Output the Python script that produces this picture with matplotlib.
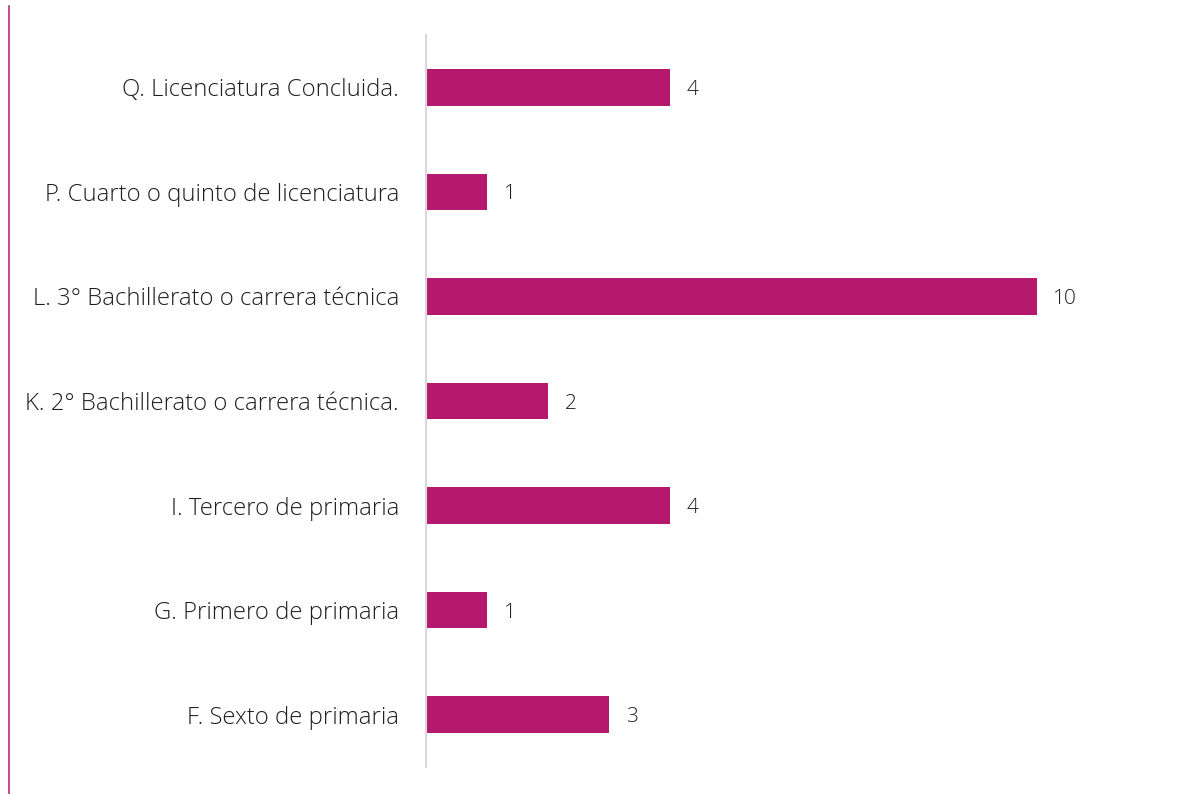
import matplotlib
matplotlib.use("Agg")
import matplotlib.pyplot as plt
from matplotlib.lines import Line2D

categories = [
    "Q. Licenciatura Concluida.",
    "P. Cuarto o quinto de licenciatura",
    "L. 3° Bachillerato o carrera técnica",
    "K. 2° Bachillerato o carrera técnica.",
    "I. Tercero de primaria",
    "G. Primero de primaria",
    "F. Sexto de primaria",
]
values = [4, 1, 10, 2, 4, 1, 3]

bar_color = "#B5196E"
text_color = "#1F1F1F"
font = "Open Sans"

W, H = 1182, 794
fig = plt.figure(figsize=(W / 100, H / 100), dpi=100)
ax = fig.add_axes([426 / W, 1 - 767 / H, (1159 - 426) / W, (767 - 35) / H])

y = list(range(len(categories)))
ax.barh(y, values, height=0.35, color=bar_color)
ax.set_ylim(len(categories) - 0.5, -0.5)
ax.set_xlim(0, 12)

for yi, v in zip(y, values):
    ax.text(v + 0.27, yi, str(v), va="center_baseline", ha="left",
            fontsize=15, color=text_color, family=font, fontweight="light")

ax.set_yticks(y)
ax.set_yticklabels(categories, fontsize=17.2, color=text_color, family=font,
                   fontweight="light")
for lbl in ax.get_yticklabels():
    lbl.set_verticalalignment("center_baseline")
ax.tick_params(axis="y", length=0, pad=19.5)
ax.set_xticks([])
for s in ["top", "right", "bottom"]:
    ax.spines[s].set_visible(False)
ax.spines["left"].set_color("#D9D9D9")
ax.spines["left"].set_linewidth(1.5)

# thin accent rule on the left edge of the figure
fig.add_artist(Line2D([8.5 / W, 8.5 / W], [0, 1 - 6 / H], transform=fig.transFigure,
                      color=bar_color, linewidth=1.1))

fig.savefig("out.png", dpi=100)
